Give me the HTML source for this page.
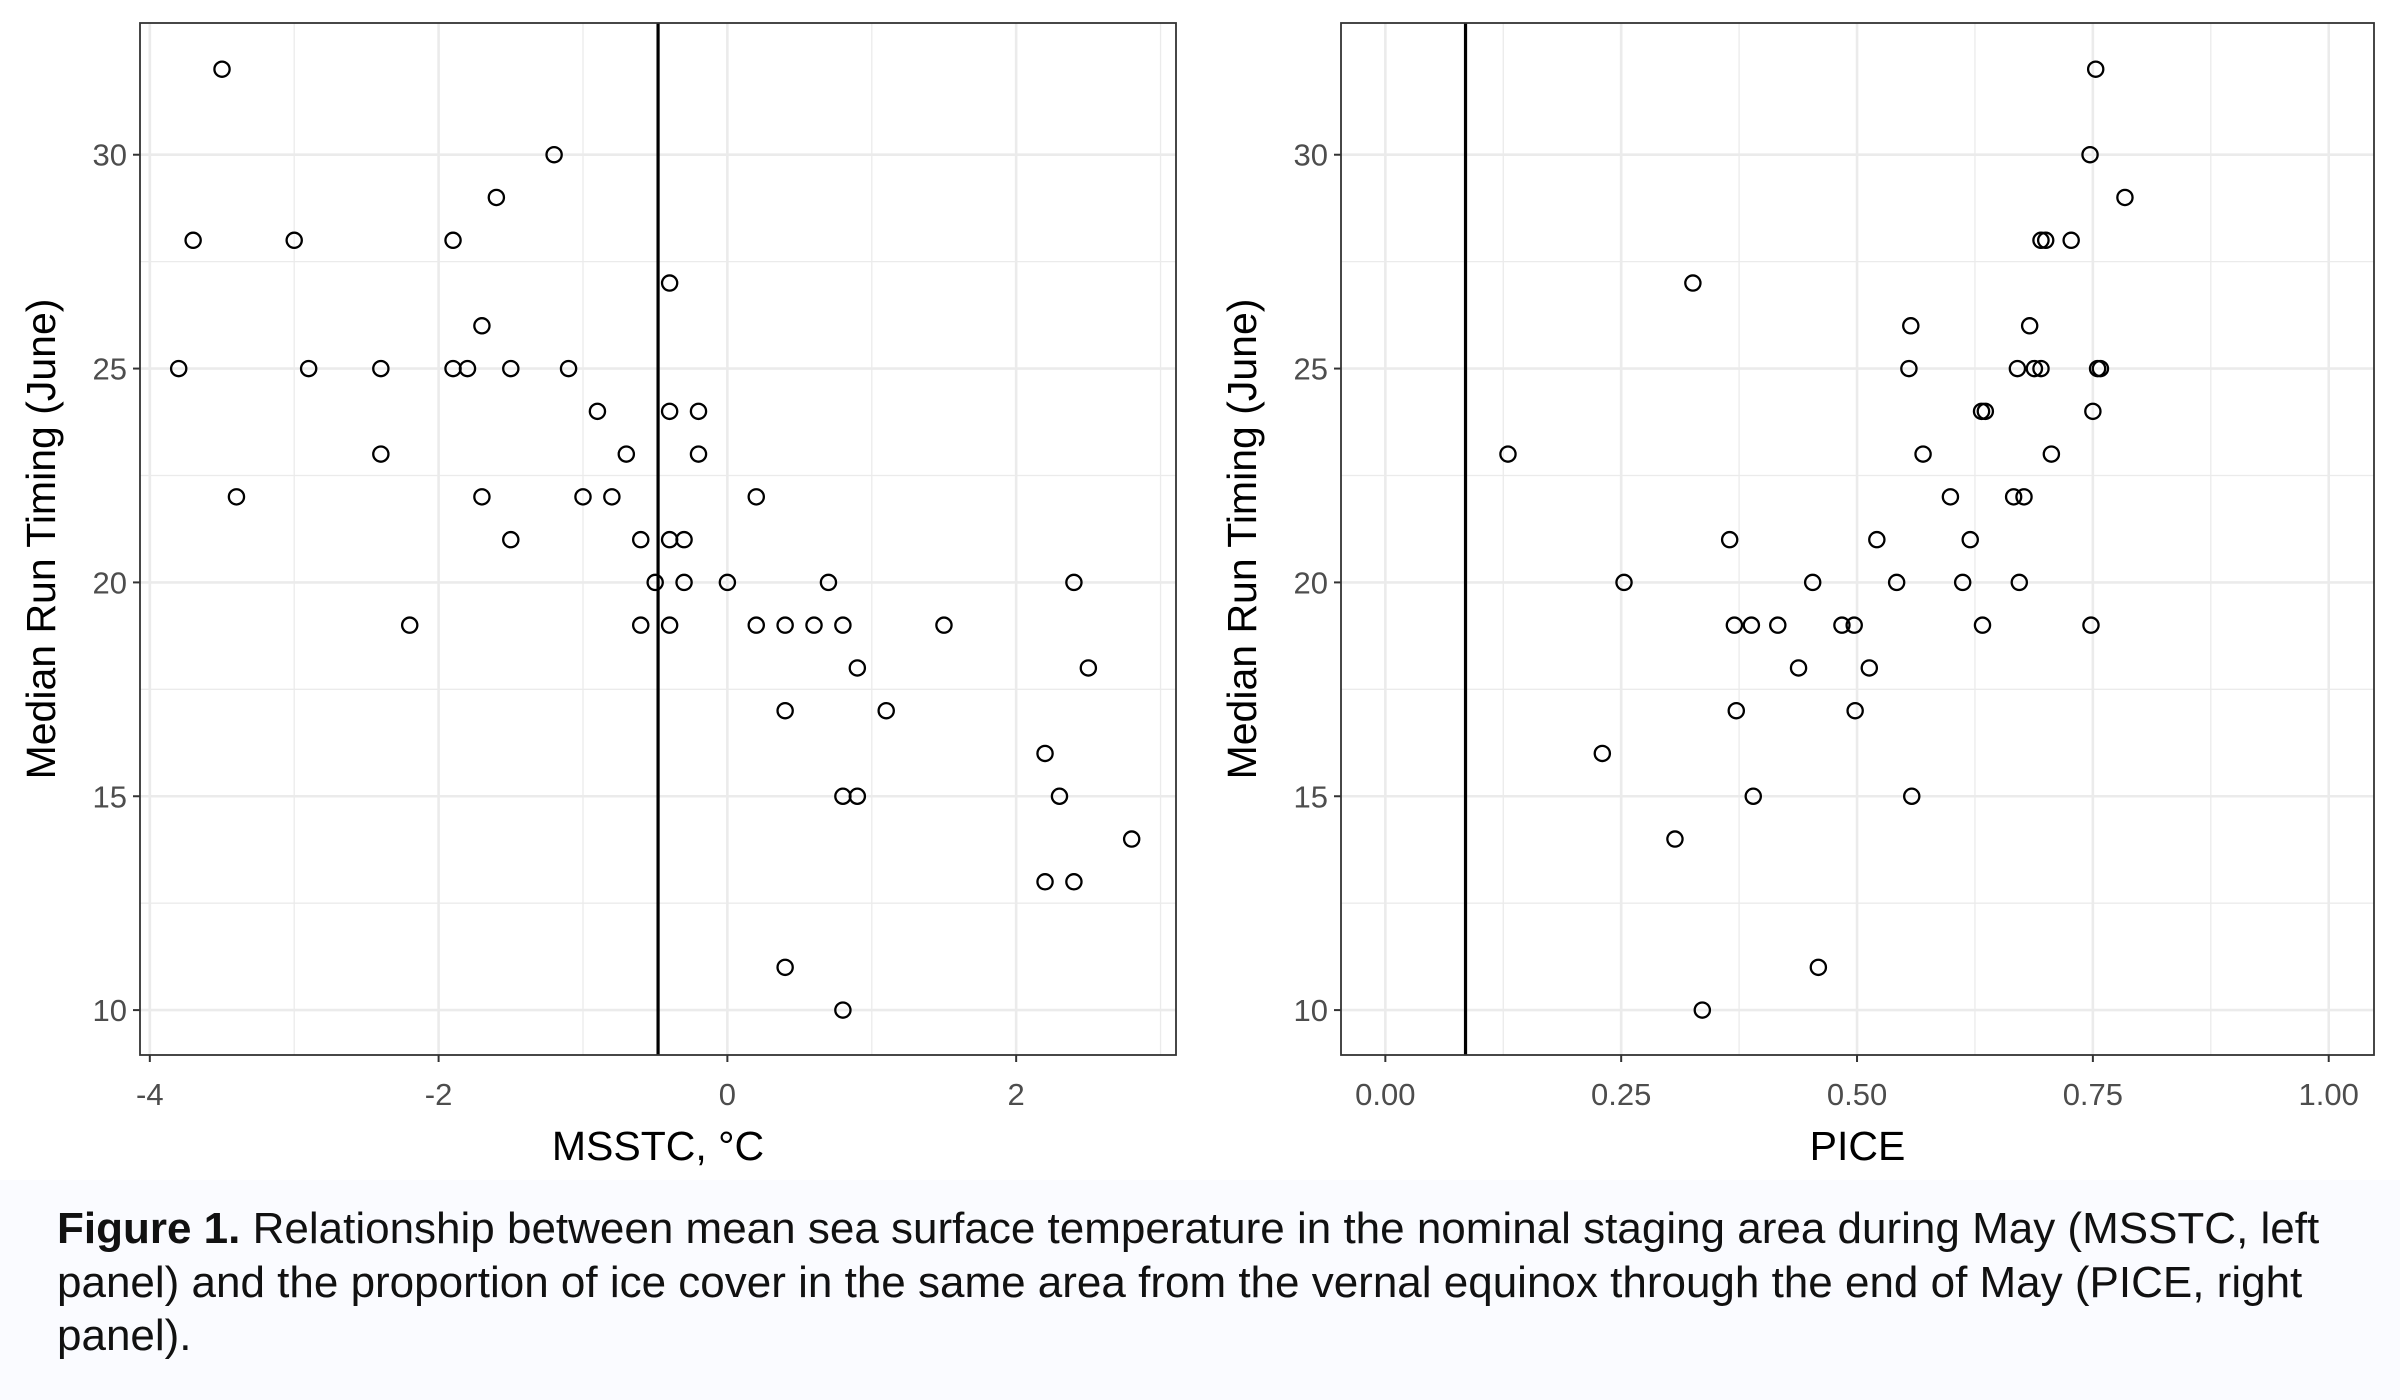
<!DOCTYPE html>
<html><head><meta charset="utf-8">
<style>
html,body{margin:0;padding:0;background:#fff;}
body{width:2400px;height:1400px;position:relative;overflow:hidden;font-family:"Liberation Sans",Arial,sans-serif;}
#caption{position:absolute;left:0;top:1180px;width:2400px;height:220px;background:#fafbff;}
#caption p{margin:0;position:absolute;left:57px;top:22px;font-size:44px;line-height:53.5px;color:#111;white-space:nowrap;}
svg{position:absolute;left:0;top:0;}
</style></head>
<body>
<svg id="chart" width="2400" height="1200"></svg>
<div id="caption"><p><b>Figure 1.</b> Relationship between mean sea surface temperature in the nominal staging area during May (MSSTC, left<br>panel) and the proportion of ice cover in the same area from the vernal equinox through the end of May (PICE, right<br>panel).</p></div>
<script>
const yTicks=[10,15,20,25,30];
const leftXTicks=[-4,-2,0,2];
const leftXTickLabels=["-4","-2","0","2"];
const rightXTicks=[0,0.25,0.5,0.75,1];
const rightXTickLabels=["0.00","0.25","0.50","0.75","1.00"];
const msstc=[-3.5,-3.7,-3.0,-1.9,-1.2,-1.6,-0.4,-1.7,-3.8,-2.9,-2.4,-1.9,-1.8,-1.5,-1.1,-0.9,-0.4,-0.2,-2.4,-0.7,-0.2,-3.4,-1.7,-1.0,-0.8,0.2,-1.5,-0.6,-0.4,-0.3,-0.5,-0.3,0,0.7,2.4,-2.2,-0.6,-0.4,0.2,0.4,0.6,0.8,1.5,0.9,2.5,0.4,1.1,2.2,0.8,0.9,2.3,2.8,2.2,2.4,0.4,0.8];
const msstcTiming=[32,28,28,28,30,29,27,26,25,25,25,25,25,25,25,24,24,24,23,23,23,22,22,22,22,22,21,21,21,21,20,20,20,20,20,19,19,19,19,19,19,19,19,18,18,17,17,16,15,15,15,14,13,13,11,10];
const pice=[0.753,0.747,0.784,0.695,0.70,0.727,0.326,0.557,0.683,0.555,0.670,0.688,0.695,0.755,0.758,0.632,0.636,0.75,0.13,0.57,0.706,0.599,0.666,0.677,0.365,0.521,0.62,0.253,0.453,0.542,0.612,0.672,0.37,0.388,0.416,0.484,0.497,0.633,0.748,0.438,0.513,0.372,0.498,0.23,0.39,0.558,0.307,0.459,0.336];
const piceTiming=[32,30,29,28,28,28,27,26,26,25,25,25,25,25,25,24,24,24,23,23,23,22,22,22,21,21,21,20,20,20,20,20,19,19,19,19,19,19,19,18,18,17,17,16,15,15,14,11,10];
const leftVline=-0.48;
const rightVline=0.085;

const NS="http://www.w3.org/2000/svg";
const svg=document.getElementById('chart');
function el(tag,attrs,parent){const e=document.createElementNS(NS,tag);for(const k in attrs)e.setAttribute(k,attrs[k]);(parent||svg).appendChild(e);return e;}
const plotTop=23,plotBottom=1055,yMin=8.95,yMax=33.08;
function yS(v){return plotBottom-(v-yMin)/(yMax-yMin)*(plotBottom-plotTop);}

function panel(name,x0,x1,xMin,xMax,xt,xtl,xMinor,xs,ys,vline,xTitle){
  const g=el('g',{});
  
  
  const xS=v=>x0+(v-xMin)/(xMax-xMin)*(x1-x0);
  el('rect',{x:x0,y:plotTop,width:x1-x0,height:plotBottom-plotTop,fill:'#fff'},g);
  for(let i=0;i<yTicks.length-1;i++){const v=(yTicks[i]+yTicks[i+1])/2;el('line',{x1:x0,x2:x1,y1:yS(v),y2:yS(v),stroke:'#ebebeb','stroke-width':1.3},g);}
  xMinor.forEach(v=>{el('line',{x1:xS(v),x2:xS(v),y1:plotTop,y2:plotBottom,stroke:'#ebebeb','stroke-width':1.3},g);});
  yTicks.forEach(v=>{el('line',{x1:x0,x2:x1,y1:yS(v),y2:yS(v),stroke:'#ebebeb','stroke-width':2.6},g);});
  xt.forEach(v=>{el('line',{x1:xS(v),x2:xS(v),y1:plotTop,y2:plotBottom,stroke:'#ebebeb','stroke-width':2.6},g);});
  const vl=el('line',{x1:xS(vline),x2:xS(vline),y1:plotTop,y2:plotBottom,stroke:'#000','stroke-width':3.2},g);
  
  
  xs.forEach((x,i)=>{
    const c=el('circle',{cx:xS(x),cy:yS(ys[i]),r:7.6,fill:'none',stroke:'#000','stroke-width':2.3},g);
    
    
  });
  el('rect',{x:x0,y:plotTop,width:x1-x0,height:plotBottom-plotTop,fill:'none',stroke:'#333','stroke-width':1.8},g);
  yTicks.forEach(v=>{
    el('line',{x1:x0-7,x2:x0,y1:yS(v),y2:yS(v),stroke:'#333','stroke-width':2},g);
    const t=el('text',{x:x0-13,y:yS(v)+11,'text-anchor':'end','font-size':31,fill:'#4d4d4d'},g);
    t.textContent=v;
    
    
  });
  xt.forEach((v,i)=>{
    el('line',{x1:xS(v),x2:xS(v),y1:plotBottom,y2:plotBottom+7,stroke:'#333','stroke-width':2},g);
    const t=el('text',{x:xS(v),y:plotBottom+50,'text-anchor':'middle','font-size':31,fill:'#4d4d4d'},g);
    t.textContent=xtl[i];
    
    
  });
  const xtT=el('text',{x:(x0+x1)/2,y:1160,'text-anchor':'middle','font-size':41,fill:'#000'},g);
  xtT.textContent=xTitle;
  
  
  const cy=(plotTop+plotBottom)/2, tx=x0-85;
  const yt=el('text',{x:tx,y:cy,'text-anchor':'middle','font-size':41,fill:'#000',transform:`rotate(-90 ${tx} ${cy})`},g);
  yt.textContent='Median Run Timing (June)';
  
  
}
panel('msstc',140,1176,-4.068,3.107,leftXTicks,leftXTickLabels,[-3,-1,1,3],msstc,msstcTiming,leftVline,'MSSTC, °C');
panel('pice',1341,2374,-0.047,1.048,rightXTicks,rightXTickLabels,[0.125,0.375,0.625,0.875],pice,piceTiming,rightVline,'PICE');
</script>
</body></html>
